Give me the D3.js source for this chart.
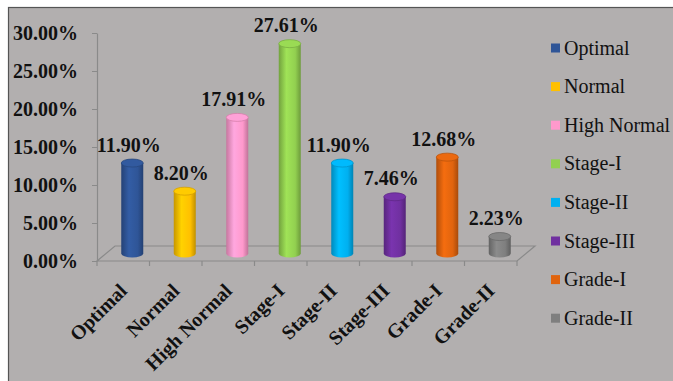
<!DOCTYPE html>
<html><head><meta charset="utf-8">
<script src="https://cdn.jsdelivr.net/npm/d3@7"></script>
<style>body{margin:0;background:#fff}svg{display:block}</style>
</head><body>
<script>
const categories = ["Optimal","Normal","High Normal","Stage-I","Stage-II","Stage-III","Grade-I","Grade-II"];
const values = [11.90, 8.20, 17.91, 27.61, 11.90, 7.46, 12.68, 2.23];
const colors = ["#2f5597","#ffc000","#ff99cc","#92d050","#00b0f0","#7030a0","#e0640e","#7f7f7f"];
const yTicks = [0,5,10,15,20,25,30];

const W = 673, H = 381;
const svg = d3.select("body").append("svg").attr("width", W).attr("height", H);
svg.append("rect").attr("x",8.5).attr("y",7.5).attr("width",W).attr("height",H)
  .attr("fill","#b2afaf").attr("stroke","#555").attr("stroke-width",1.2);

const x0 = 97, x1 = 517, yBase = 261, yTop = 33;
const depthX = 18, depthY = -15;
const x = d3.scaleBand().domain(categories).range([x0, x1]);
const y = d3.scaleLinear().domain([0, 30]).range([yBase, yTop]);
const font = "'Liberation Serif','Times New Roman',serif";
const axisCol = "#8a8a8a";

// floor
const floor = [[x0,yBase],[x1,yBase],[x1+depthX,yBase+depthY],[x0+depthX,yBase+depthY]];
svg.append("polygon").attr("points", floor.map(p=>p.join(",")).join(" "))
  .attr("fill","none").attr("stroke",axisCol).attr("stroke-width",1.2);

// y axis
const yAxis = d3.axisLeft(y).tickValues(yTicks).tickFormat(d => d.toFixed(2) + "%")
  .tickSizeInner(5).tickSizeOuter(0).tickPadding(14);
const gy = svg.append("g").attr("transform", `translate(${x0},0)`).call(yAxis);
gy.select(".domain").attr("stroke", axisCol).attr("stroke-width",1.2);
gy.selectAll(".tick line").attr("stroke", axisCol);
gy.selectAll(".tick text").attr("font-family", font).attr("font-size", 20)
  .attr("font-weight","bold").attr("fill","#111");

// category ticks
const edges = categories.map(c => x(c)).concat([x1]);
svg.append("g").selectAll("line").data(edges).join("line")
  .attr("x1", d=>d).attr("x2", d=>d).attr("y1", yBase).attr("y2", yBase+5)
  .attr("stroke", axisCol).attr("stroke-width",1.2);

// category labels
svg.append("g").selectAll("text").data(categories).join("text")
  .attr("transform", d => `translate(${x(d)+x.bandwidth()/2+5},${yBase+31}) rotate(-45)`)
  .attr("text-anchor","end")
  .attr("font-family", font).attr("font-size", 20).attr("font-weight","bold").attr("fill","#111")
  .text(d=>d);

// gradients
const defs = svg.append("defs");
colors.forEach((c,i) => {
  const g = defs.append("linearGradient").attr("id","g"+i).attr("x1","0").attr("x2","1").attr("y1","0").attr("y2","0");
  const base = d3.color(c);
  g.append("stop").attr("offset","0%").attr("stop-color", base.darker(0.7));
  g.append("stop").attr("offset","35%").attr("stop-color", base.brighter(0.25));
  g.append("stop").attr("offset","75%").attr("stop-color", base);
  g.append("stop").attr("offset","100%").attr("stop-color", base.darker(0.8));
});

// cylinders
const bw = 22, ry = 4;
const bars = svg.append("g");
categories.forEach((c,i) => {
  const cx = x(c) + x.bandwidth()/2 + depthX/2;
  const yb = yBase + depthY/2;
  const yt = y(values[i]) + depthY/2;
  const g = bars.append("g");
  g.append("path")
    .attr("d", `M${cx-bw/2},${yt} L${cx-bw/2},${yb} A${bw/2},${ry} 0 0 0 ${cx+bw/2},${yb} L${cx+bw/2},${yt} Z`)
    .attr("fill", `url(#g${i})`);
  g.append("ellipse").attr("cx", cx).attr("cy", yt).attr("rx", bw/2).attr("ry", ry)
    .attr("fill", d3.color(colors[i]).brighter(0.15)).attr("stroke", d3.color(colors[i]).darker(0.5)).attr("stroke-width",0.8);
  svg.append("text").attr("x", cx - 3.5).attr("y", yt - 11.5)
    .attr("text-anchor","middle").attr("font-family", font).attr("font-size", 20)
    .attr("font-weight","bold").attr("fill","#111").text(values[i].toFixed(2) + "%");
});

// legend
const leg = svg.append("g");
categories.forEach((c,i) => {
  const cy = 48 + i*38.6;
  leg.append("rect").attr("x",551).attr("y",cy-4.5).attr("width",9).attr("height",9).attr("fill",colors[i]);
  leg.append("text").attr("x",564).attr("y",cy+6.5).attr("font-family",font).attr("font-size",20)
    .attr("fill","#111").text(c);
});
</script>
</body></html>
